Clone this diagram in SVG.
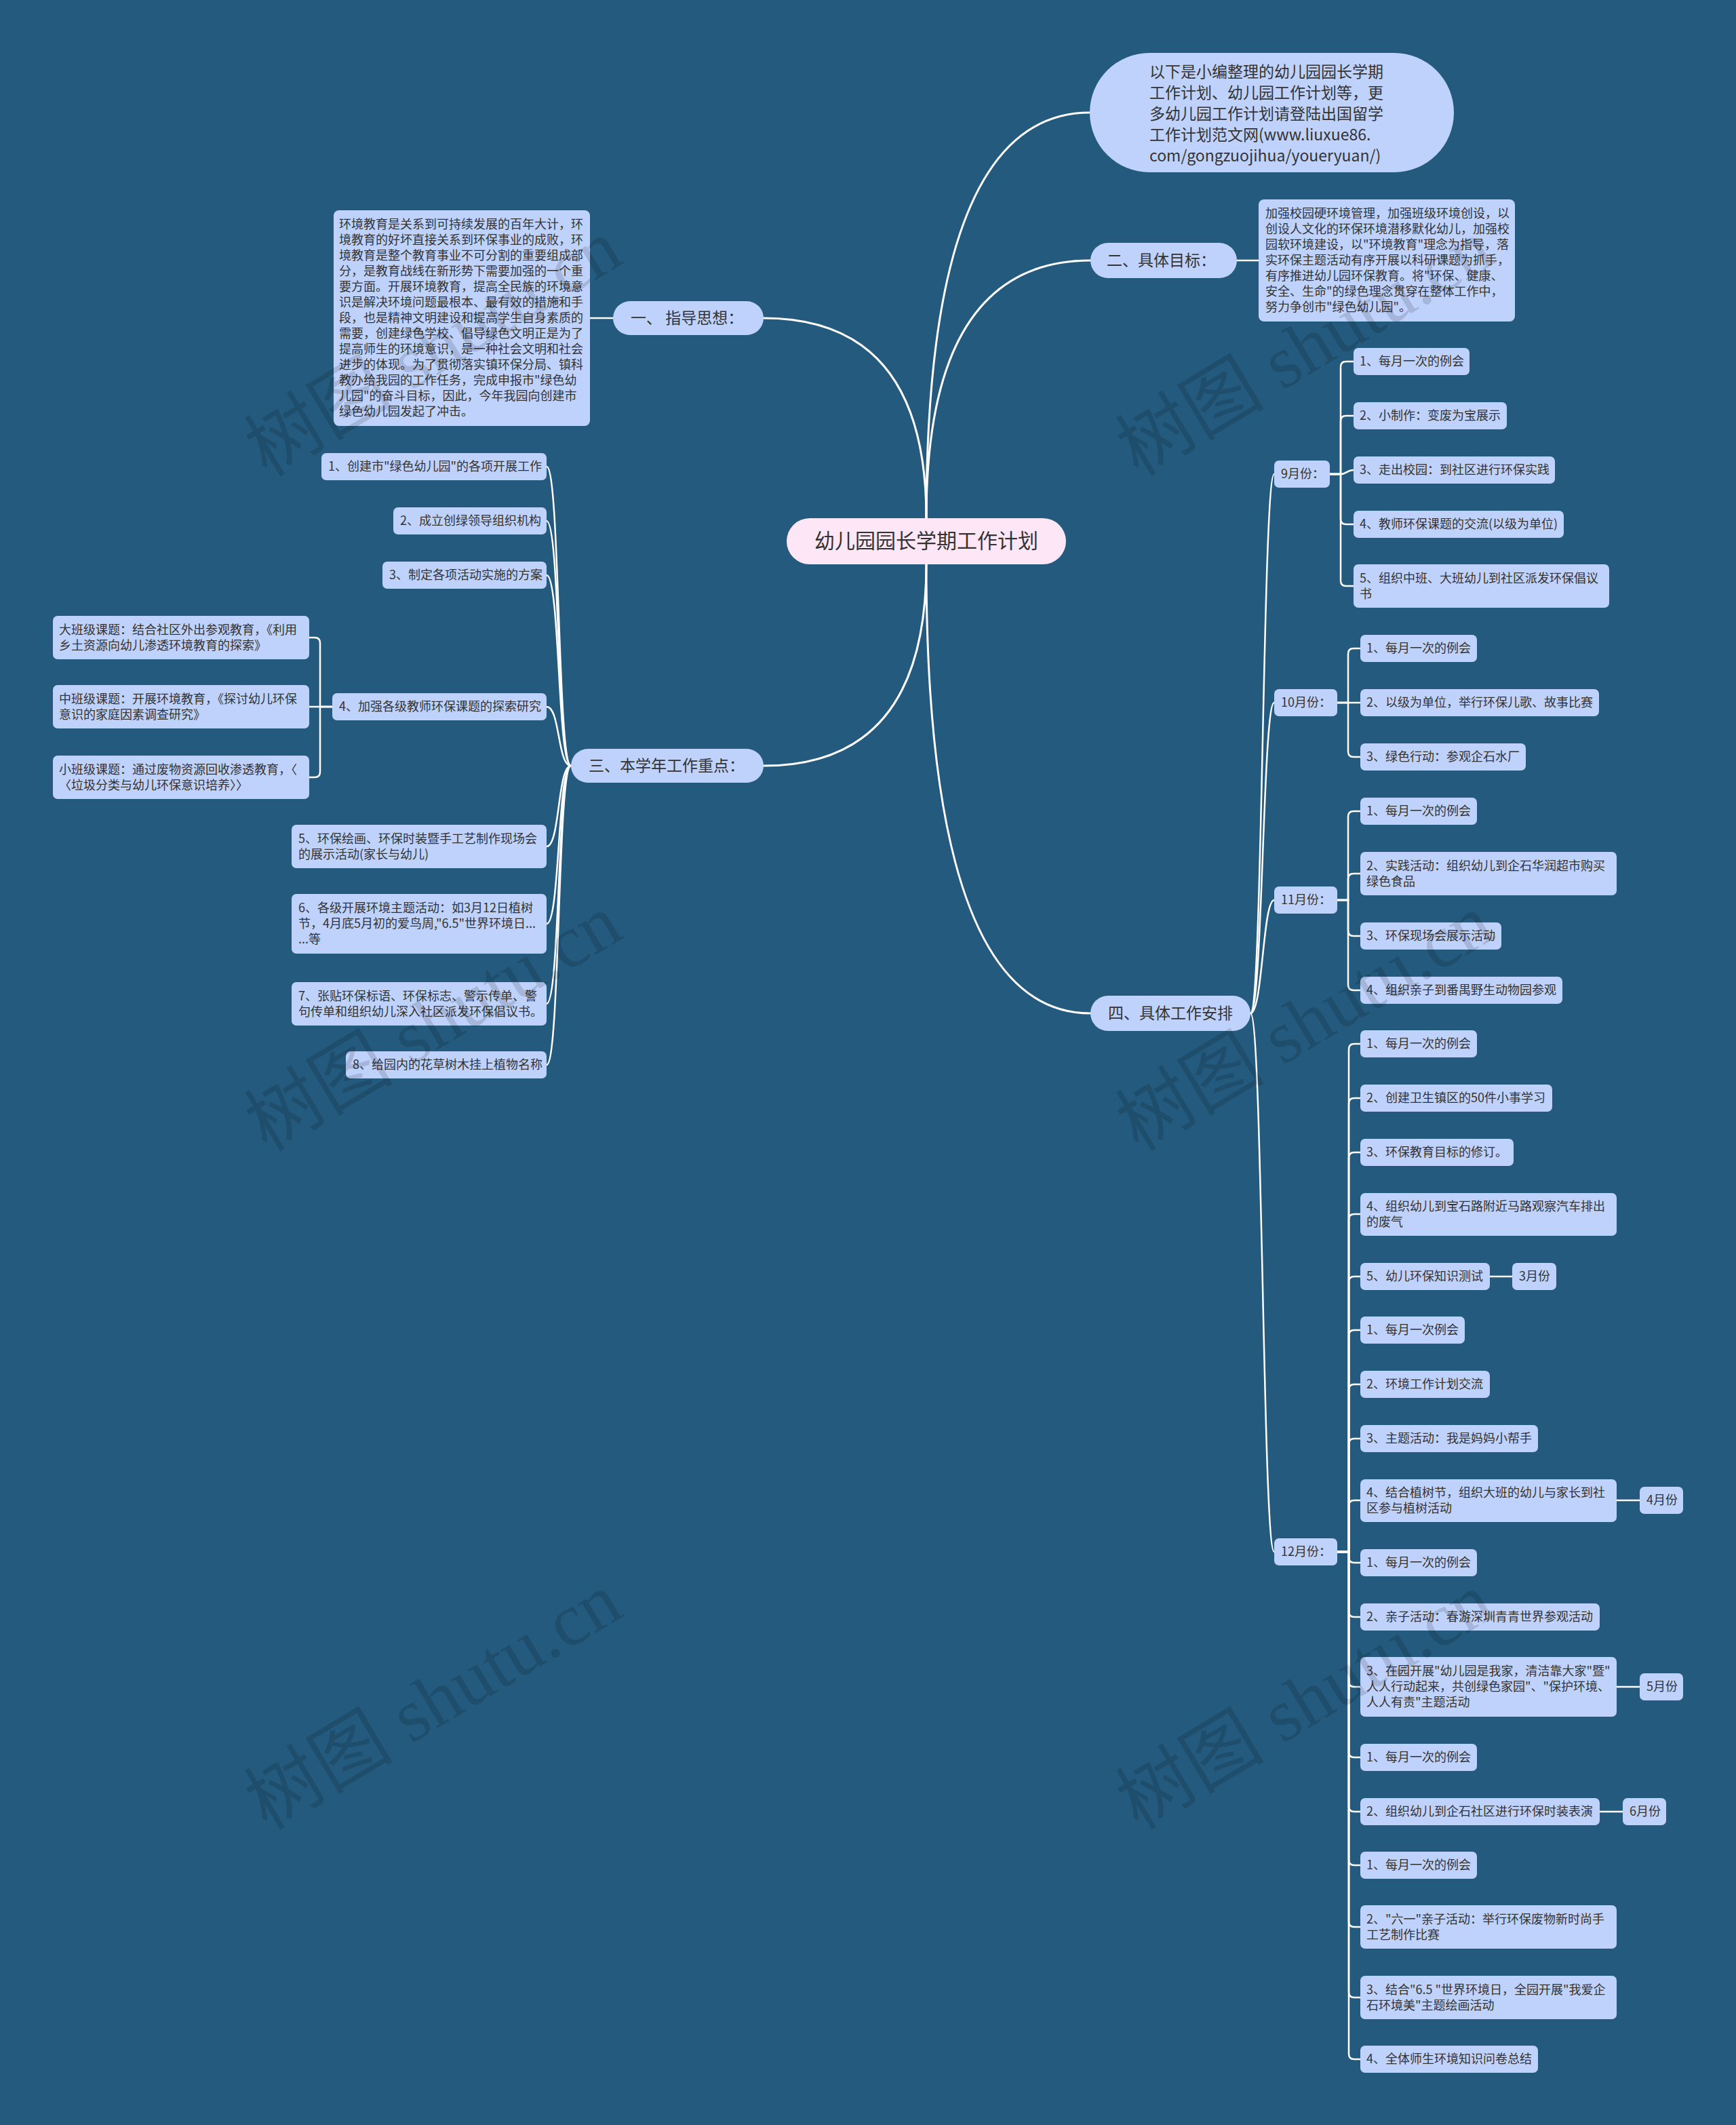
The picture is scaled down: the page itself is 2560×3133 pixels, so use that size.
<svg xmlns="http://www.w3.org/2000/svg" width="2560" height="3133" viewBox="0 0 2560 3133">
<style>
.bg{fill:#245a7d}
.n{fill:#bfd2fb}
.r{fill:#fde6f6}
text{font-family:"Noto Sans CJK SC","Noto Sans",sans-serif;fill:#333;font-size:18px}
.l1{font-size:23px}
.rt{font-size:30px}
.c path{fill:none;stroke:#fff;stroke-width:2.5;stroke-linecap:round}
.c .c0{stroke-width:3}
.wm{font-family:"Liberation Serif","Noto Sans CJK SC",serif;font-size:110px;fill:#000;fill-opacity:0.13}
</style>
<rect class="bg" x="0" y="0" width="2560" height="3133"/>

<g class="c" id="connectors">
<path class="c0" d="M1366,764 Q1366,166 1607,166"/>
<path class="c0" d="M1366,764 Q1366,384 1608,384"/>
<path class="c0" d="M1366,764 Q1366,469 1126,469"/>
<path class="c0" d="M1366,832 Q1366,1129 1126,1129"/>
<path class="c0" d="M1366,832 Q1366,1494 1608,1494"/>
<path d="M904,469 H870"/>
<path d="M1824,384 H1856"/>
<path d="M842,1129 C822,1129 826,688 806,688"/>
<path d="M842,1129 C822,1129 826,768 806,768"/>
<path d="M842,1129 C822,1129 826,848 806,848"/>
<path d="M842,1129 C822,1129 826,1042 806,1042"/>
<path d="M842,1129 C822,1129 826,1248 806,1248"/>
<path d="M842,1129 C822,1129 826,1362 806,1362"/>
<path d="M842,1129 C822,1129 826,1480 806,1480"/>
<path d="M842,1129 C822,1129 826,1570 806,1570"/>
<path d="M490,1042 H472 V948 Q472,940 464,940 H456"/>
<path d="M490,1042 H456"/>
<path d="M490,1042 H472 V1138 Q472,1146 464,1146 H456"/>
<path d="M1844,1494 C1862,1494 1862,699 1879,699"/>
<path d="M1844,1494 C1862,1494 1862,1036 1879,1036"/>
<path d="M1844,1494 C1862,1494 1862,1327 1879,1327"/>
<path d="M1844,1494 C1862,1494 1862,2288 1879,2288"/>
<path d="M1961,699 H1977 V541 Q1977,533 1985,533 H1996"/>
<path d="M1961,699 H1977 V621 Q1977,613 1985,613 H1996"/>
<path d="M1961,699 H1977 C1986,699 1986,693 1996,693"/>
<path d="M1961,699 H1977 V765 Q1977,773 1985,773 H1996"/>
<path d="M1961,699 H1977 V856 Q1977,864 1985,864 H1996"/>
<path d="M1972,1036 H1988 V964 Q1988,956 1996,956 H2006"/>
<path d="M1972,1036 H2006"/>
<path d="M1972,1036 H1988 V1108 Q1988,1116 1996,1116 H2006"/>
<path d="M1972,1327 H1988 V1204 Q1988,1196 1996,1196 H2006"/>
<path d="M1972,1327 H1988 V1296 Q1988,1288 1996,1288 H2006"/>
<path d="M1972,1327 H1988 V1372 Q1988,1380 1996,1380 H2006"/>
<path d="M1972,1327 H1988 V1452 Q1988,1460 1996,1460 H2006"/>
<path d="M1972,2288 H1989 V1547 Q1989,1539 1997,1539 H2006"/>
<path d="M1972,2288 H1989 V1627 Q1989,1619 1997,1619 H2006"/>
<path d="M1972,2288 H1989 V1707 Q1989,1699 1997,1699 H2006"/>
<path d="M1972,2288 H1989 V1798 Q1989,1790 1997,1790 H2006"/>
<path d="M1972,2288 H1989 V1890 Q1989,1882 1997,1882 H2006"/>
<path d="M1972,2288 H1989 V1969 Q1989,1961 1997,1961 H2006"/>
<path d="M1972,2288 H1989 V2049 Q1989,2041 1997,2041 H2006"/>
<path d="M1972,2288 H1989 V2129 Q1989,2121 1997,2121 H2006"/>
<path d="M1972,2288 H1989 V2220 Q1989,2212 1997,2212 H2006"/>
<path d="M1972,2288 H1989 V2296 Q1989,2304 1997,2304 H2006"/>
<path d="M1972,2288 H1989 V2376 Q1989,2384 1997,2384 H2006"/>
<path d="M1972,2288 H1989 V2479 Q1989,2487 1997,2487 H2006"/>
<path d="M1972,2288 H1989 V2583 Q1989,2591 1997,2591 H2006"/>
<path d="M1972,2288 H1989 V2663 Q1989,2671 1997,2671 H2006"/>
<path d="M1972,2288 H1989 V2742 Q1989,2750 1997,2750 H2006"/>
<path d="M1972,2288 H1989 V2833 Q1989,2841 1997,2841 H2006"/>
<path d="M1972,2288 H1989 V2937 Q1989,2945 1997,2945 H2006"/>
<path d="M1972,2288 H1989 V3028 Q1989,3036 1997,3036 H2006"/>
<path d="M2197,1882 H2230"/>
<path d="M2384,2212 H2418"/>
<path d="M2384,2487 H2418"/>
<path d="M2359,2671 H2393"/>
</g>

<g id="root"><rect class="r" x="1160" y="764" width="412" height="68" rx="34"/><text class="rt" x="1366" y="808" text-anchor="middle">幼儿园园长学期工作计划</text></g>

<g id="intro"><rect class="n" x="1607" y="78" width="537" height="176" rx="88"/>
<text class="l1" x="1695" y="114">以下是小编整理的幼儿园园长学期</text>
<text class="l1" x="1695" y="145">工作计划、幼儿园工作计划等，更</text>
<text class="l1" x="1695" y="176">多幼儿园工作计划请登陆出国留学</text>
<text class="l1" x="1695" y="207">工作计划范文网(www.liuxue86.</text>
<text class="l1" x="1695" y="238">com/gongzuojihua/youeryuan/)</text></g>

<g id="goal"><rect class="n" x="1608" y="358" width="216" height="52" rx="26"/><text class="l1" x="1632" y="392">二、具体目标：</text></g>
<g id="goal-text"><rect class="n" x="1856" y="294" width="378" height="180" rx="8"/>
<text x="1866" y="321">加强校园硬环境管理，加强班级环境创设，以</text>
<text x="1866" y="344">创设人文化的环保环境潜移默化幼儿，加强校</text>
<text x="1866" y="367">园软环境建设，以"环境教育"理念为指导，落</text>
<text x="1866" y="390">实环保主题活动有序开展以科研课题为抓手，</text>
<text x="1866" y="413">有序推进幼儿园环保教育。将"环保、健康、</text>
<text x="1866" y="436">安全、生命"的绿色理念贯穿在整体工作中，</text>
<text x="1866" y="459">努力争创市"绿色幼儿园"。</text></g>

<g id="guide"><rect class="n" x="904" y="444" width="222" height="50" rx="25"/><text class="l1" x="930" y="477">一、 指导思想：</text></g>
<g id="guide-text"><rect class="n" x="492" y="310" width="378" height="318" rx="8"/>
<text x="500" y="337">环境教育是关系到可持续发展的百年大计，环</text>
<text x="500" y="360">境教育的好坏直接关系到环保事业的成败，环</text>
<text x="500" y="383">境教育是整个教育事业不可分割的重要组成部</text>
<text x="500" y="406">分，是教育战线在新形势下需要加强的一个重</text>
<text x="500" y="429">要方面。开展环境教育，提高全民族的环境意</text>
<text x="500" y="452">识是解决环境问题最根本、最有效的措施和手</text>
<text x="500" y="475">段，也是精神文明建设和提高学生自身素质的</text>
<text x="500" y="498">需要，创建绿色学校、倡导绿色文明正是为了</text>
<text x="500" y="521">提高师生的环境意识，是一种社会文明和社会</text>
<text x="500" y="544">进步的体现。为了贯彻落实镇环保分局、镇科</text>
<text x="500" y="567">教办给我园的工作任务，完成申报市"绿色幼</text>
<text x="500" y="590">儿园"的奋斗目标，因此，今年我园向创建市</text>
<text x="500" y="613">绿色幼儿园发起了冲击。</text></g>

<g id="focus"><rect class="n" x="842" y="1104" width="284" height="50" rx="25"/><text class="l1" x="868" y="1137">三、本学年工作重点：</text></g>
<g id="f1"><rect class="n" x="474" y="668" width="332" height="40" rx="7"/><text x="484" y="694">1、创建市"绿色幼儿园"的各项开展工作</text></g>
<g id="f2"><rect class="n" x="580" y="748" width="226" height="40" rx="7"/><text x="590" y="774">2、成立创绿领导组织机构</text></g>
<g id="f3"><rect class="n" x="564" y="828" width="242" height="40" rx="7"/><text x="574" y="854">3、制定各项活动实施的方案</text></g>
<g id="f4"><rect class="n" x="490" y="1022" width="316" height="40" rx="7"/><text x="500" y="1048">4、加强各级教师环保课题的探索研究</text></g>
<g id="f4a"><rect class="n" x="78" y="908" width="378" height="64" rx="7"/><text x="87" y="935">大班级课题：结合社区外出参观教育，《利用</text><text x="87" y="958">乡土资源向幼儿渗透环境教育的探索》</text></g>
<g id="f4b"><rect class="n" x="78" y="1010" width="378" height="64" rx="7"/><text x="87" y="1037">中班级课题：开展环境教育，《探讨幼儿环保</text><text x="87" y="1060">意识的家庭因素调查研究》</text></g>
<g id="f4c"><rect class="n" x="78" y="1114" width="378" height="64" rx="7"/><text x="87" y="1141">小班级课题：通过废物资源回收渗透教育，〈</text><text x="87" y="1164">〈垃圾分类与幼儿环保意识培养〉〉</text></g>
<g id="f5"><rect class="n" x="430" y="1216" width="376" height="64" rx="7"/><text x="440" y="1243">5、环保绘画、环保时装暨手工艺制作现场会</text><text x="440" y="1266">的展示活动(家长与幼儿)</text></g>
<g id="f6"><rect class="n" x="430" y="1318" width="376" height="88" rx="7"/><text x="440" y="1345">6、各级开展环境主题活动：如3月12日植树</text><text x="440" y="1368">节，4月底5月初的爱鸟周,"6.5"世界环境日...</text><text x="440" y="1391">...等</text></g>
<g id="f7"><rect class="n" x="430" y="1448" width="376" height="64" rx="7"/><text x="440" y="1475">7、张贴环保标语、环保标志、警示传单、警</text><text x="440" y="1498">句传单和组织幼儿深入社区派发环保倡议书。</text></g>
<g id="f8"><rect class="n" x="510" y="1550" width="296" height="40" rx="7"/><text x="520" y="1576">8、给园内的花草树木挂上植物名称</text></g>

<g id="plan"><rect class="n" x="1608" y="1468" width="236" height="52" rx="26"/><text class="l1" x="1634" y="1502">四、具体工作安排</text></g>

<g id="sep"><rect class="n" x="1879" y="679" width="82" height="40" rx="7"/><text x="1889" y="705">9月份：</text></g>
<g id="sep1"><rect class="n" x="1996" y="513" width="171" height="40" rx="7"/><text x="2005" y="539">1、每月一次的例会</text></g>
<g id="sep2"><rect class="n" x="1996" y="593" width="226" height="40" rx="7"/><text x="2005" y="619">2、小制作：变废为宝展示</text></g>
<g id="sep3"><rect class="n" x="1996" y="673" width="297" height="40" rx="7"/><text x="2005" y="699">3、走出校园：到社区进行环保实践</text></g>
<g id="sep4"><rect class="n" x="1996" y="753" width="310" height="40" rx="7"/><text x="2005" y="779">4、教师环保课题的交流(以级为单位)</text></g>
<g id="sep5"><rect class="n" x="1996" y="832" width="377" height="64" rx="7"/><text x="2005" y="859">5、组织中班、大班幼儿到社区派发环保倡议</text><text x="2005" y="882">书</text></g>

<g id="oct"><rect class="n" x="1879" y="1016" width="93" height="40" rx="7"/><text x="1889" y="1042">10月份：</text></g>
<g id="oct1"><rect class="n" x="2006" y="936" width="172" height="40" rx="7"/><text x="2015" y="962">1、每月一次的例会</text></g>
<g id="oct2"><rect class="n" x="2006" y="1016" width="352" height="40" rx="7"/><text x="2015" y="1042">2、以级为单位，举行环保儿歌、故事比赛</text></g>
<g id="oct3"><rect class="n" x="2006" y="1096" width="244" height="40" rx="7"/><text x="2015" y="1122">3、绿色行动：参观企石水厂</text></g>

<g id="nov"><rect class="n" x="1879" y="1307" width="93" height="40" rx="7"/><text x="1889" y="1333">11月份：</text></g>
<g id="nov1"><rect class="n" x="2006" y="1176" width="172" height="40" rx="7"/><text x="2015" y="1202">1、每月一次的例会</text></g>
<g id="nov2"><rect class="n" x="2006" y="1256" width="378" height="64" rx="7"/><text x="2015" y="1283">2、实践活动：组织幼儿到企石华润超市购买</text><text x="2015" y="1306">绿色食品</text></g>
<g id="nov3"><rect class="n" x="2006" y="1360" width="208" height="40" rx="7"/><text x="2015" y="1386">3、环保现场会展示活动</text></g>
<g id="nov4"><rect class="n" x="2006" y="1440" width="298" height="40" rx="7"/><text x="2015" y="1466">4、组织亲子到番禺野生动物园参观</text></g>

<g id="dec"><rect class="n" x="1879" y="2268" width="93" height="40" rx="7"/><text x="1889" y="2294">12月份：</text></g>
<g id="dec1"><rect class="n" x="2006" y="1519" width="172" height="40" rx="7"/><text x="2015" y="1545">1、每月一次的例会</text></g>
<g id="dec2"><rect class="n" x="2006" y="1599" width="283" height="40" rx="7"/><text x="2015" y="1625">2、创建卫生镇区的50件小事学习</text></g>
<g id="dec3"><rect class="n" x="2006" y="1679" width="226" height="40" rx="7"/><text x="2015" y="1705">3、环保教育目标的修订。</text></g>
<g id="dec4"><rect class="n" x="2006" y="1759" width="378" height="63" rx="7"/><text x="2015" y="1785">4、组织幼儿到宝石路附近马路观察汽车排出</text><text x="2015" y="1808">的废气</text></g>
<g id="dec5"><rect class="n" x="2006" y="1862" width="191" height="40" rx="7"/><text x="2015" y="1888">5、幼儿环保知识测试</text></g>
<g id="mar"><rect class="n" x="2230" y="1862" width="65" height="40" rx="7"/><text x="2240" y="1888">3月份</text></g>
<g id="dec6"><rect class="n" x="2006" y="1941" width="154" height="40" rx="7"/><text x="2015" y="1967">1、每月一次例会</text></g>
<g id="dec7"><rect class="n" x="2006" y="2021" width="191" height="40" rx="7"/><text x="2015" y="2047">2、环境工作计划交流</text></g>
<g id="dec8"><rect class="n" x="2006" y="2101" width="262" height="40" rx="7"/><text x="2015" y="2127">3、主题活动：我是妈妈小帮手</text></g>
<g id="dec9"><rect class="n" x="2006" y="2181" width="378" height="63" rx="7"/><text x="2015" y="2207">4、结合植树节，组织大班的幼儿与家长到社</text><text x="2015" y="2230">区参与植树活动</text></g>
<g id="apr"><rect class="n" x="2418" y="2192" width="64" height="40" rx="7"/><text x="2428" y="2218">4月份</text></g>
<g id="dec10"><rect class="n" x="2006" y="2284" width="172" height="40" rx="7"/><text x="2015" y="2310">1、每月一次的例会</text></g>
<g id="dec11"><rect class="n" x="2006" y="2364" width="353" height="40" rx="7"/><text x="2015" y="2390">2、亲子活动：春游深圳青青世界参观活动</text></g>
<g id="dec12"><rect class="n" x="2006" y="2443" width="378" height="88" rx="7"/><text x="2015" y="2470">3、在园开展"幼儿园是我家，清洁靠大家"暨"</text><text x="2015" y="2493">人人行动起来，共创绿色家园"、"保护环境、</text><text x="2015" y="2516">人人有责"主题活动</text></g>
<g id="may"><rect class="n" x="2418" y="2467" width="64" height="40" rx="7"/><text x="2428" y="2493">5月份</text></g>
<g id="dec13"><rect class="n" x="2006" y="2571" width="172" height="40" rx="7"/><text x="2015" y="2597">1、每月一次的例会</text></g>
<g id="dec14"><rect class="n" x="2006" y="2651" width="353" height="40" rx="7"/><text x="2015" y="2677">2、组织幼儿到企石社区进行环保时装表演</text></g>
<g id="jun"><rect class="n" x="2393" y="2651" width="64" height="40" rx="7"/><text x="2403" y="2677">6月份</text></g>
<g id="dec15"><rect class="n" x="2006" y="2730" width="172" height="40" rx="7"/><text x="2015" y="2756">1、每月一次的例会</text></g>
<g id="dec16"><rect class="n" x="2006" y="2809" width="378" height="64" rx="7"/><text x="2015" y="2836">2、"六一"亲子活动：举行环保废物新时尚手</text><text x="2015" y="2859">工艺制作比赛</text></g>
<g id="dec17"><rect class="n" x="2006" y="2913" width="378" height="64" rx="7"/><text x="2015" y="2940">3、结合"6.5 "世界环境日，全园开展"我爱企</text><text x="2015" y="2963">石环境美"主题绘画活动</text></g>
<g id="dec18"><rect class="n" x="2006" y="3016" width="262" height="40" rx="7"/><text x="2015" y="3042">4、全体师生环境知识问卷总结</text></g>

<g id="watermarks">
<text class="wm" x="640" y="550" text-anchor="middle" transform="rotate(-31 640 515)">树图 shutu.cn</text>
<text class="wm" x="1925" y="550" text-anchor="middle" transform="rotate(-31 1925 515)">树图 shutu.cn</text>
<text class="wm" x="640" y="1545" text-anchor="middle" transform="rotate(-31 640 1510)">树图 shutu.cn</text>
<text class="wm" x="1925" y="1545" text-anchor="middle" transform="rotate(-31 1925 1510)">树图 shutu.cn</text>
<text class="wm" x="640" y="2545" text-anchor="middle" transform="rotate(-31 640 2510)">树图 shutu.cn</text>
<text class="wm" x="1925" y="2545" text-anchor="middle" transform="rotate(-31 1925 2510)">树图 shutu.cn</text>
</g>
</svg>
